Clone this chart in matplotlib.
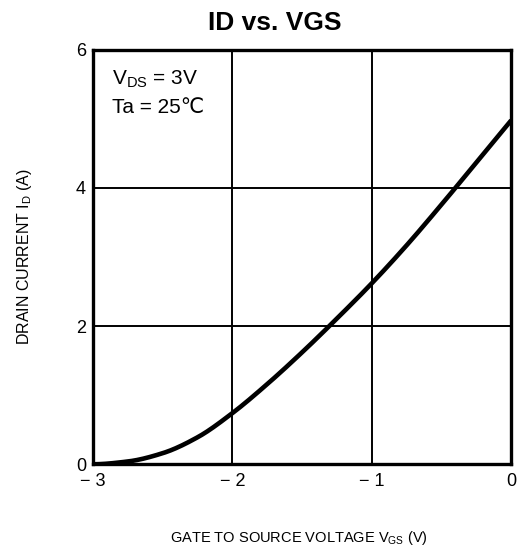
import matplotlib
matplotlib.use("Agg")
import matplotlib.pyplot as plt
import numpy as np

plt.rcParams['font.family'] = ['Liberation Sans', 'DejaVu Sans']
plt.rcParams['mathtext.fontset'] = 'custom'
plt.rcParams['mathtext.rm'] = 'Liberation Sans'
plt.rcParams['mathtext.it'] = 'Liberation Sans'

vgs = [-3.0, -2.75, -2.5, -2.25, -2.0, -1.75, -1.5, -1.25, -1.0, -0.75, -0.5, -0.25, 0.0]
id_a = [0.0, 0.04, 0.16, 0.39, 0.74, 1.16, 1.62, 2.11, 2.62, 3.17, 3.76, 4.37, 4.98]
xticks = [-3, -2, -1, 0]
xticklabels = ['\u2212 3', '\u2212 2', '\u2212 1', '0']
yticks = [0, 2, 4, 6]
yticklabels = ['0', '2', '4', '6']

fig = plt.figure(figsize=(5.19, 5.54), dpi=100)
ax = fig.add_axes([0.179, 0.162, 0.806, 0.748])

xs = np.array(vgs); ys = np.array(id_a)
xf = np.linspace(-3, 0, 400)
def pchip(x, y, xn):
    h = np.diff(x); d = np.diff(y) / h
    m = np.zeros_like(y)
    for k in range(1, len(x) - 1):
        if d[k-1] * d[k] > 0:
            w1 = 2*h[k] + h[k-1]; w2 = h[k] + 2*h[k-1]
            m[k] = (w1 + w2) / (w1/d[k-1] + w2/d[k])
    m[0] = 0.0; m[-1] = d[-1]
    idx = np.clip(np.searchsorted(x, xn) - 1, 0, len(x) - 2)
    t = (xn - x[idx]) / h[idx]
    h00 = 2*t**3 - 3*t**2 + 1; h10 = t**3 - 2*t**2 + t
    h01 = -2*t**3 + 3*t**2; h11 = t**3 - t**2
    return h00*y[idx] + h10*h[idx]*m[idx] + h01*y[idx+1] + h11*h[idx]*m[idx+1]
yf = pchip(xs, ys, xf)
ax.plot(xf, yf, color='black', lw=3.3, solid_capstyle='butt', zorder=3)

ax.set_xlim(-3, 0)
ax.set_ylim(0, 6)
ax.set_xticks(xticks)
ax.set_xticklabels(xticklabels, fontsize=13)
ax.set_yticks(yticks)
ax.set_yticklabels(yticklabels, fontsize=13)
ax.tick_params(axis='x', length=0, pad=6)
ax.tick_params(axis='y', length=0, pad=5)
ax.grid(True, color='black', lw=1.4)
for s in ax.spines.values():
    s.set_linewidth(2.4)
    s.set_zorder(4)

ax.text(0.045, 0.955, r'V$_{\rm DS}$ = 3V', transform=ax.transAxes, fontsize=15, va='top', ha='left')
ax.text(0.045, 0.885, 'Ta = 25\u2103', transform=ax.transAxes, fontsize=15, va='top', ha='left')

fig.text(0.53, 0.958, 'ID vs. VGS', fontsize=19, fontweight='bold', ha='center', va='center')
fig.text(0.048, 0.536, r'DRAIN CURRENT I$_{\rm D}$ (A)', rotation=90, fontsize=11.5, ha='center', va='center')
fig.text(0.575, 0.028, r'GATE TO SOURCE VOLTAGE V$_{\rm GS}$ (V)', fontsize=10.5, ha='center', va='center')

fig.savefig('out.png', dpi=100)
